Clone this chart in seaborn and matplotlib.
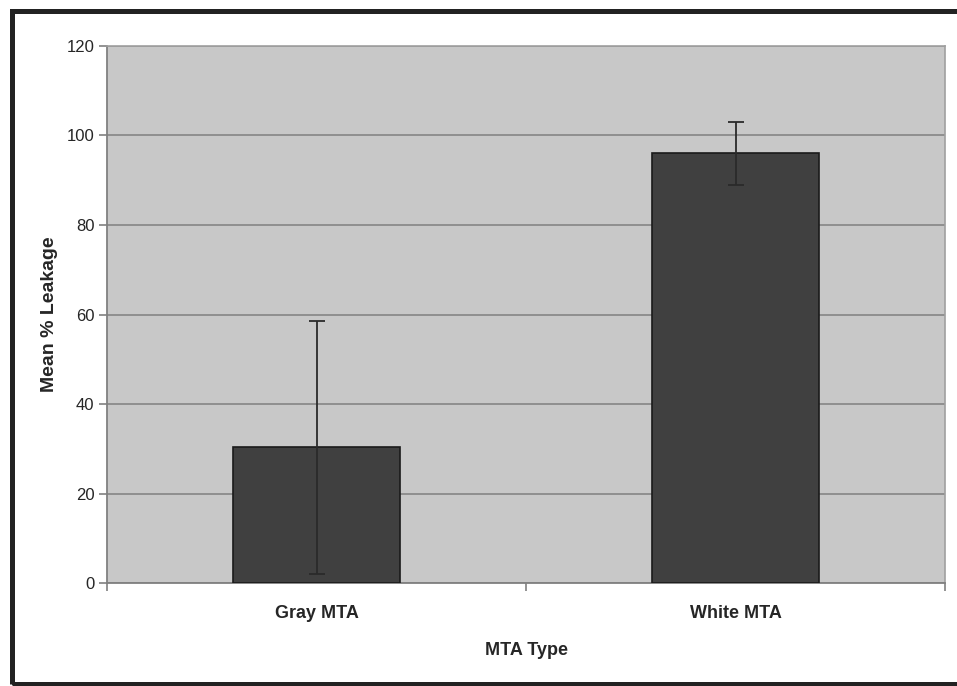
import matplotlib
matplotlib.use("Agg")
import matplotlib.pyplot as plt
import seaborn as sns
import pandas as pd
from matplotlib.patches import Rectangle
from matplotlib.ticker import FixedLocator

categories = ["Gray MTA", "White MTA"]
mean_leakage = [30.3, 96.0]
error = [28.2, 7.1]
y_ticks = [0, 20, 40, 60, 80, 100, 120]

df = pd.DataFrame({"MTA Type": categories, "Mean % Leakage": mean_leakage})

sns.set_style("white")
plt.rcParams["font.family"] = ["Liberation Sans", "DejaVu Sans"]

fig = plt.figure(figsize=(9.57, 6.86), dpi=100)
fig.patch.set_facecolor("white")
ax = fig.add_axes([0.1118, 0.150, 0.8757, 0.783])
ax.set_facecolor("#c8c8c8")

sns.barplot(data=df, x="MTA Type", y="Mean % Leakage", ax=ax, color="#404040",
            saturation=1, width=0.4, edgecolor="#1a1a1a", linewidth=1.2,
            errorbar=None, zorder=3)
ax.errorbar(range(len(categories)), mean_leakage, yerr=error, fmt="none",
            ecolor="#2a2a2a", elinewidth=1.3, capsize=6, capthick=1.3, zorder=4)

ax.set_ylim(0, 120)
ax.set_xlim(-0.5, 1.5)
ax.set_yticks(y_ticks)
ax.yaxis.grid(True, color="#8a8a8a", linewidth=1.3, zorder=0)
ax.set_axisbelow(True)

for s in ["top", "right"]:
    ax.spines[s].set_color("#a0a0a0")
    ax.spines[s].set_linewidth(1.2)
for s in ["left", "bottom"]:
    ax.spines[s].set_color("#808080")
    ax.spines[s].set_linewidth(1.3)

ax.tick_params(axis="y", which="major", direction="out", length=6, width=1.2,
               color="#808080", labelsize=12, pad=3, left=True)
ax.tick_params(axis="x", which="major", length=0, labelsize=13, pad=16, bottom=True)
ax.xaxis.set_minor_locator(FixedLocator([-0.5, 0.5, 1.5]))
ax.tick_params(axis="x", which="minor", direction="out", length=6, width=1.2,
               color="#808080", bottom=True)
for lab in ax.get_xticklabels():
    lab.set_fontweight("bold")

ax.set_xlabel("MTA Type", fontsize=13, fontweight="bold", labelpad=14)
ax.set_ylabel("Mean % Leakage", fontsize=14, fontweight="bold", labelpad=6)

fig.patches.append(Rectangle((11.5 / 957, 2.5 / 686), 1.2, (683.5 - 10.5) / 686,
                             transform=fig.transFigure, fill=False,
                             edgecolor="#222222", linewidth=3.6, zorder=10))

fig.savefig("out.png", dpi=100, facecolor="white")
